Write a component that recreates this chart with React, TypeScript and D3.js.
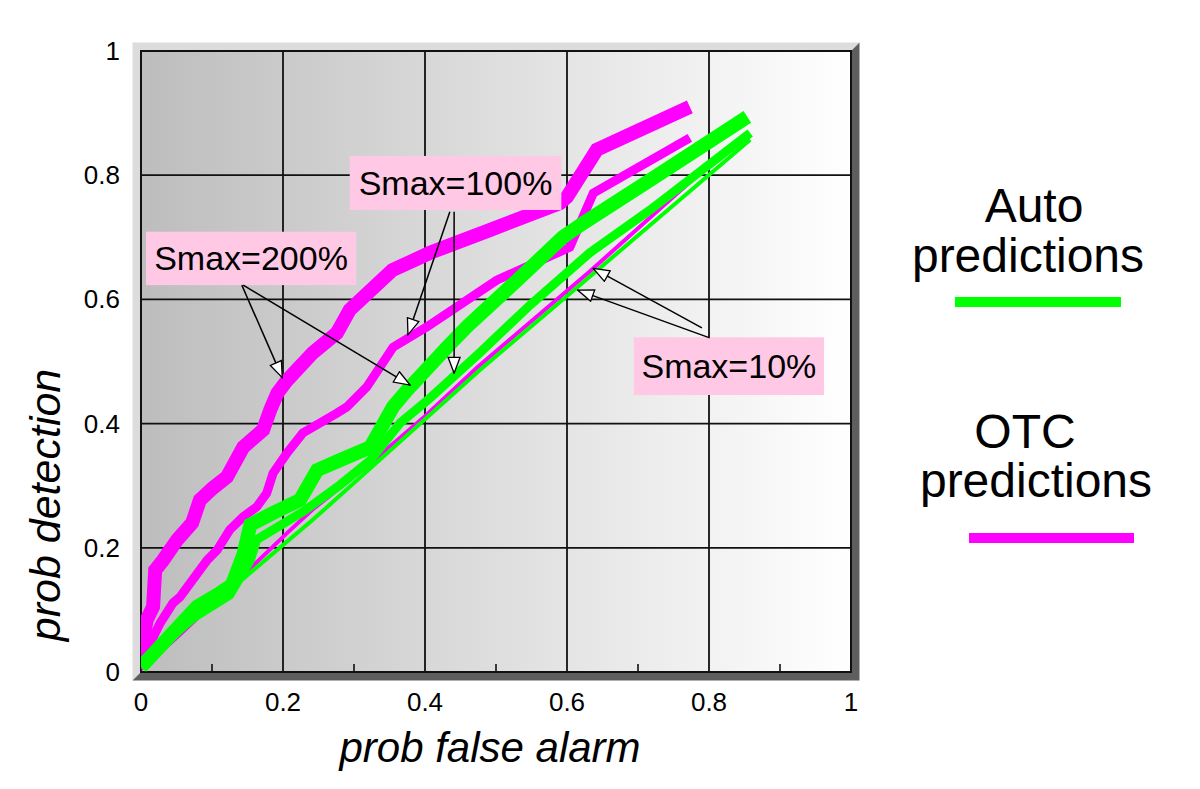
import React from 'react';
import * as d3 from 'd3';

type Pt = [number, number];

// OTC predictions (magenta)
const otc200: Pt[] = [
  [0, 0.03], [0.008, 0.084], [0.017, 0.105], [0.02, 0.164], [0.031, 0.18], [0.051, 0.213],
  [0.072, 0.24], [0.083, 0.277], [0.101, 0.296], [0.121, 0.314], [0.144, 0.362], [0.172, 0.39],
  [0.182, 0.422], [0.192, 0.449], [0.206, 0.47], [0.242, 0.514], [0.276, 0.546], [0.294, 0.583],
  [0.354, 0.647], [0.407, 0.675], [0.492, 0.712], [0.59, 0.755], [0.6, 0.765], [0.642, 0.841],
  [0.773, 0.91],
];
const otc100: Pt[] = [
  [0, 0.016], [0.027, 0.079], [0.045, 0.111], [0.055, 0.121], [0.093, 0.18], [0.107, 0.196],
  [0.125, 0.229], [0.144, 0.25], [0.163, 0.266], [0.177, 0.288], [0.186, 0.32], [0.206, 0.353],
  [0.228, 0.385], [0.276, 0.417], [0.29, 0.427], [0.318, 0.459], [0.355, 0.523], [0.403, 0.556],
  [0.501, 0.631], [0.604, 0.684], [0.637, 0.771], [0.773, 0.86],
];
const otc10: Pt[] = [
  [0, 0.005], [0.05, 0.055], [0.154, 0.167], [0.206, 0.224], [0.242, 0.262], [0.323, 0.336],
  [0.4, 0.412], [0.473, 0.49], [0.632, 0.645], [0.776, 0.792],
];

// Auto predictions (green)
const auto200: Pt[] = [
  [0, 0.008], [0.079, 0.105], [0.111, 0.127], [0.128, 0.14], [0.144, 0.188], [0.154, 0.237],
  [0.186, 0.256], [0.224, 0.277], [0.248, 0.325], [0.28, 0.341], [0.323, 0.362], [0.355, 0.427],
  [0.375, 0.454], [0.431, 0.523], [0.459, 0.556], [0.53, 0.631], [0.594, 0.7], [0.623, 0.723],
  [0.717, 0.792], [0.854, 0.894],
];
const auto100: Pt[] = [
  [0, 0.008], [0.069, 0.084], [0.125, 0.124], [0.154, 0.18], [0.163, 0.213], [0.228, 0.258],
  [0.28, 0.301], [0.323, 0.341], [0.365, 0.401], [0.407, 0.441], [0.477, 0.514], [0.548, 0.591],
  [0.632, 0.675], [0.717, 0.744], [0.858, 0.868],
];
const auto10: Pt[] = [
  [0, 0.01], [0.154, 0.16], [0.242, 0.245], [0.477, 0.486], [0.615, 0.62], [0.858, 0.857],
];

const xTicks = [0, 0.2, 0.4, 0.6, 0.8, 1];
const yTicks = [0, 0.2, 0.4, 0.6, 0.8, 1];
const xTickLabels = ['0', '0.2', '0.4', '0.6', '0.8', '1'];
const yTickLabels = ['0', '0.2', '0.4', '0.6', '0.8', '1'];
const minorXTicks = [0.1, 0.3, 0.5, 0.7, 0.9];

// annotation boxes: label, x0, x1, yTop, yBottom (data units)
const boxLabels = ['Smax=200%', 'Smax=100%', 'Smax=10%'];
const boxX0 = [0.007, 0.294, 0.694];
const boxX1 = [0.303, 0.592, 0.962];
const boxYTop = [0.709, 0.831, 0.539];
const boxYBot = [0.623, 0.744, 0.446];

// arrows: from (x,y) -> to (x,y) in data units
const arrowFrom: Pt[] = [
  [0.142, 0.623], [0.144, 0.623], [0.435, 0.741], [0.441, 0.741], [0.79, 0.554], [0.801, 0.538],
];
const arrowTo: Pt[] = [
  [0.199, 0.474], [0.379, 0.462], [0.376, 0.543], [0.441, 0.481], [0.637, 0.65], [0.615, 0.615],
];

const MAGENTA = '#ff00ff';
const GREEN = '#00ff00';
const FONT = '"Liberation Sans", Arial, Helvetica, sans-serif';

export default function App() {
  const x = d3.scaleLinear().domain([0, 1]).range([141, 851]);
  const y = d3.scaleLinear().domain([0, 1]).range([672, 51]);
  const line = d3.line<Pt>().x((d) => x(d[0])).y((d) => y(d[1]));

  const series = [
    { data: otc10, color: MAGENTA, w: 4 },
    { data: otc100, color: MAGENTA, w: 9 },
    { data: otc200, color: MAGENTA, w: 14 },
    { data: auto10, color: GREEN, w: 4 },
    { data: auto100, color: GREEN, w: 9 },
    { data: auto200, color: GREEN, w: 14 },
  ];

  const L = x(0), R = x(1), T = y(1), B = y(0);
  const bev = 8.5;

  return (
    <svg
      width={1200}
      height={789}
      style={{ position: 'absolute', left: 0, top: 0, background: '#fff' }}
      fontFamily={FONT}
    >
      <defs>
        <linearGradient id="bg" x1="0" x2="1" y1="0" y2="0">
          <stop offset="0%" stopColor="#bdbdbd" />
          <stop offset="100%" stopColor="#ffffff" />
        </linearGradient>
        <marker
          id="ah"
          viewBox="0 0 18 14"
          refX={17}
          refY={7}
          markerWidth={18}
          markerHeight={14}
          markerUnits="userSpaceOnUse"
          orient="auto"
        >
          <path d="M1,1 L17,7 L1,13 Z" fill="#fff" stroke="#000" strokeWidth={1.3} strokeLinejoin="miter" />
        </marker>
        <clipPath id="clip">
          <rect x={L} y={T} width={R - L} height={B - T} />
        </clipPath>
      </defs>

      {/* 3D frame */}
      <polygon
        points={`${L - bev},${T - bev} ${R + bev},${T - bev} ${R},${T} ${L},${T} ${L},${B} ${L - bev},${B + bev}`}
        fill="#dcdcdc"
      />
      <polygon
        points={`${R + bev},${T - bev} ${R + bev},${B + bev} ${L - bev},${B + bev} ${L},${B} ${R},${B} ${R},${T}`}
        fill="#5e5e5e"
      />

      {/* plot background */}
      <rect x={L} y={T} width={R - L} height={B - T} fill="url(#bg)" />

      {/* grid */}
      {xTicks.map((t) => (
        <line key={'gx' + t} x1={x(t)} x2={x(t)} y1={T} y2={B} stroke="#111" strokeWidth={1.8} />
      ))}
      {yTicks.map((t) => (
        <line key={'gy' + t} x1={L} x2={R} y1={y(t)} y2={y(t)} stroke="#111" strokeWidth={1.8} />
      ))}
      {minorXTicks.map((t) => (
        <line key={'mx' + t} x1={x(t)} x2={x(t)} y1={B} y2={B - 8} stroke="#111" strokeWidth={1.6} />
      ))}
      <rect x={L} y={T} width={R - L} height={B - T} fill="none" stroke="#111" strokeWidth={2} />

      {/* curves */}
      <g clipPath="url(#clip)">
        {series.map((s, i) => (
          <path
            key={i}
            d={line(s.data) || ''}
            fill="none"
            stroke={s.color}
            strokeWidth={s.w}
            strokeLinejoin="miter"
            strokeLinecap="butt"
          />
        ))}
      </g>

      {/* annotation boxes */}
      {boxLabels.map((lab, i) => (
        <g key={lab}>
          <rect
            x={x(boxX0[i])}
            y={y(boxYTop[i])}
            width={x(boxX1[i]) - x(boxX0[i])}
            height={y(boxYBot[i]) - y(boxYTop[i])}
            fill="#ffc8e4"
          />
          <text
            x={(x(boxX0[i]) + x(boxX1[i])) / 2}
            y={(y(boxYTop[i]) + y(boxYBot[i])) / 2 + 12}
            textAnchor="middle"
            fontSize={34}
            fill="#000"
          >
            {lab}
          </text>
        </g>
      ))}

      {/* arrows */}
      {arrowFrom.map((f, i) => (
        <line
          key={'a' + i}
          x1={x(f[0])}
          y1={y(f[1])}
          x2={x(arrowTo[i][0])}
          y2={y(arrowTo[i][1])}
          stroke="#000"
          strokeWidth={1.5}
          markerEnd="url(#ah)"
        />
      ))}

      {/* tick labels */}
      {xTicks.map((t, i) => (
        <text key={'tx' + t} x={x(t)} y={B + 39} textAnchor="middle" fontSize={26} fill="#000">
          {xTickLabels[i]}
        </text>
      ))}
      {yTicks.map((t, i) => (
        <text key={'ty' + t} x={L - 21} y={y(t) + 9} textAnchor="end" fontSize={26} fill="#000">
          {yTickLabels[i]}
        </text>
      ))}

      {/* axis titles */}
      <text x={490} y={762} textAnchor="middle" fontSize={42} fontStyle="italic" fill="#000">
        prob false alarm
      </text>
      <text
        transform="translate(60,505) rotate(-90)"
        textAnchor="middle"
        fontSize={43}
        fontStyle="italic"
        fill="#000"
      >
        prob detection
      </text>

      {/* legend */}
      <text x={1034} y={222} textAnchor="middle" fontSize={48} fill="#000">Auto</text>
      <text x={1028} y={272} textAnchor="middle" fontSize={48} fill="#000">predictions</text>
      <line x1={955} x2={1121} y1={302} y2={302} stroke={GREEN} strokeWidth={10} />
      <text x={1025} y={448} textAnchor="middle" fontSize={48} fill="#000">OTC</text>
      <text x={1036} y={497} textAnchor="middle" fontSize={48} fill="#000">predictions</text>
      <line x1={969} x2={1134} y1={538} y2={538} stroke={MAGENTA} strokeWidth={10} />
    </svg>
  );
}
